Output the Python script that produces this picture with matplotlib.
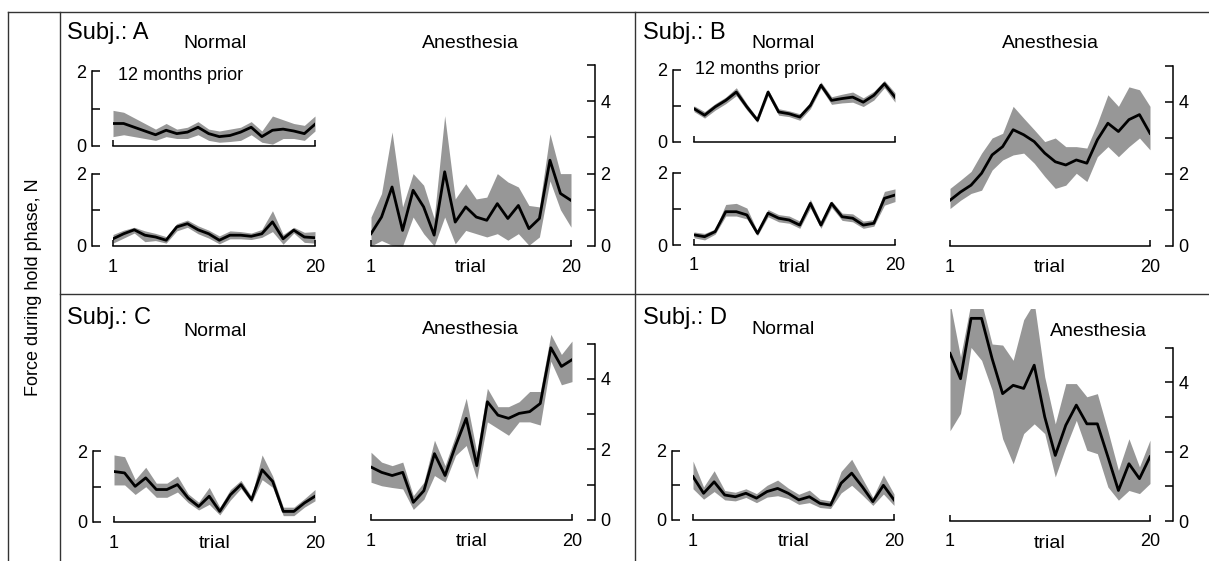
import numpy as np
import matplotlib
matplotlib.use("Agg")
import matplotlib.pyplot as plt
from matplotlib.lines import Line2D

plt.rcParams['font.family'] = ['Liberation Sans', 'DejaVu Sans']

W, H = 1209, 561
trials = np.arange(1, 21)

# ---- data: mean, upper and lower band edge ----
# subject A
a_prior_mean = [0.6, 0.6, 0.5, 0.4, 0.3, 0.42, 0.33, 0.37, 0.5, 0.33, 0.25, 0.28, 0.37, 0.5, 0.25, 0.42, 0.45, 0.4, 0.33, 0.58]
a_prior_hi   = [0.95, 0.9, 0.75, 0.6, 0.45, 0.6, 0.45, 0.5, 0.65, 0.45, 0.4, 0.45, 0.5, 0.65, 0.4, 0.8, 0.7, 0.6, 0.55, 0.8]
a_prior_lo   = [0.25, 0.3, 0.25, 0.2, 0.15, 0.25, 0.2, 0.2, 0.3, 0.15, 0.1, 0.12, 0.15, 0.3, 0.1, 0.05, 0.2, 0.2, 0.15, 0.4]
a_norm_mean  = [0.2, 0.34, 0.45, 0.3, 0.25, 0.16, 0.53, 0.62, 0.45, 0.34, 0.16, 0.3, 0.3, 0.27, 0.34, 0.67, 0.2, 0.44, 0.25, 0.23]
a_norm_hi    = [0.32, 0.44, 0.52, 0.42, 0.35, 0.26, 0.62, 0.72, 0.56, 0.44, 0.28, 0.42, 0.4, 0.36, 0.46, 0.98, 0.32, 0.52, 0.38, 0.4]
a_norm_lo    = [0.08, 0.22, 0.36, 0.12, 0.15, 0.08, 0.42, 0.52, 0.34, 0.22, 0.06, 0.2, 0.2, 0.18, 0.24, 0.4, 0.05, 0.36, 0.1, 0.08]
a_anes_mean  = [0.34, 0.8, 1.63, 0.43, 1.54, 1.08, 0.3, 2.05, 0.66, 1.08, 0.8, 0.71, 1.17, 0.76, 1.12, 0.48, 0.76, 2.37, 1.45, 1.26]
a_anes_hi    = [0.8, 1.45, 3.15, 1.08, 2.0, 1.68, 0.76, 3.6, 1.3, 1.72, 1.3, 1.35, 2.0, 1.77, 1.63, 1.12, 1.08, 3.1, 2.0, 2.0]
a_anes_lo    = [0.0, 0.15, 0.02, 0.0, 0.8, 0.34, 0.0, 0.8, 0.06, 0.43, 0.34, 0.25, 0.34, 0.16, 0.34, 0.02, 0.25, 1.8, 1.0, 0.52]

# subject B
b_prior_mean = [0.92, 0.74, 0.97, 1.15, 1.38, 0.97, 0.6, 1.38, 0.83, 0.78, 0.69, 1.01, 1.57, 1.15, 1.2, 1.24, 1.1, 1.29, 1.61, 1.24]
b_prior_hi   = [1.0, 0.84, 1.06, 1.24, 1.5, 1.05, 0.66, 1.45, 0.92, 0.86, 0.78, 1.1, 1.66, 1.25, 1.32, 1.38, 1.22, 1.4, 1.7, 1.36]
b_prior_lo   = [0.84, 0.66, 0.88, 1.06, 1.28, 0.88, 0.54, 1.28, 0.74, 0.7, 0.6, 0.92, 1.48, 1.04, 1.08, 1.1, 0.98, 1.16, 1.5, 1.1]
b_norm_mean  = [0.28, 0.23, 0.37, 0.92, 0.92, 0.83, 0.32, 0.88, 0.74, 0.69, 0.55, 1.15, 0.55, 1.15, 0.78, 0.74, 0.55, 0.6, 1.29, 1.38]
b_norm_hi    = [0.36, 0.32, 0.44, 1.12, 1.15, 1.02, 0.38, 0.98, 0.84, 0.8, 0.66, 1.26, 0.64, 1.22, 0.88, 0.86, 0.66, 0.7, 1.48, 1.55]
b_norm_lo    = [0.2, 0.14, 0.3, 0.8, 0.8, 0.72, 0.26, 0.78, 0.64, 0.6, 0.46, 1.02, 0.46, 1.04, 0.68, 0.64, 0.46, 0.52, 1.1, 1.2]
b_anes_mean  = [1.27, 1.5, 1.69, 2.02, 2.53, 2.76, 3.23, 3.09, 2.9, 2.58, 2.34, 2.25, 2.39, 2.3, 2.95, 3.41, 3.18, 3.51, 3.65, 3.13]
b_anes_hi    = [1.6, 1.83, 2.07, 2.58, 3.0, 3.13, 3.88, 3.55, 3.23, 2.9, 3.0, 2.76, 2.76, 2.72, 3.41, 4.2, 3.88, 4.42, 4.34, 3.88]
b_anes_lo    = [1.04, 1.27, 1.46, 1.55, 2.11, 2.39, 2.53, 2.58, 2.3, 1.93, 1.6, 1.69, 2.02, 1.79, 2.48, 2.76, 2.48, 2.76, 3.0, 2.67]

# subject C
c_norm_mean  = [1.43, 1.39, 1.01, 1.25, 0.92, 0.92, 1.06, 0.68, 0.44, 0.73, 0.3, 0.77, 1.06, 0.63, 1.48, 1.15, 0.3, 0.3, 0.54, 0.73]
c_norm_hi    = [1.9, 1.85, 1.2, 1.55, 1.1, 1.1, 1.3, 0.8, 0.56, 0.98, 0.42, 0.92, 1.18, 0.72, 1.9, 1.3, 0.42, 0.42, 0.66, 0.92]
c_norm_lo    = [1.05, 1.05, 0.78, 1.0, 0.7, 0.7, 0.85, 0.55, 0.34, 0.5, 0.2, 0.62, 0.95, 0.55, 1.2, 0.98, 0.18, 0.18, 0.42, 0.6]
c_anes_mean  = [1.5, 1.35, 1.26, 1.35, 0.5, 0.83, 1.88, 1.26, 2.11, 2.88, 1.54, 3.35, 2.97, 2.88, 3.02, 3.07, 3.3, 4.88, 4.35, 4.54]
c_anes_hi    = [1.92, 1.64, 1.54, 1.64, 0.69, 1.07, 2.26, 1.54, 2.4, 3.45, 1.92, 3.73, 3.21, 3.21, 3.35, 3.64, 3.64, 5.26, 4.69, 5.07]
c_anes_lo    = [1.07, 0.97, 0.92, 0.88, 0.3, 0.59, 1.26, 1.07, 1.83, 2.11, 1.16, 2.78, 2.59, 2.4, 2.78, 2.78, 2.69, 4.5, 3.83, 3.92]

# subject D
d_norm_mean  = [1.25, 0.77, 1.1, 0.72, 0.67, 0.77, 0.63, 0.82, 0.91, 0.77, 0.58, 0.67, 0.48, 0.43, 1.06, 1.35, 0.96, 0.53, 1.0, 0.58]
d_norm_hi    = [1.7, 0.95, 1.42, 0.85, 0.8, 0.9, 0.76, 1.0, 1.15, 0.92, 0.74, 0.86, 0.6, 0.55, 1.4, 1.75, 1.2, 0.65, 1.3, 0.75]
d_norm_lo    = [0.9, 0.6, 0.82, 0.58, 0.55, 0.65, 0.5, 0.66, 0.7, 0.62, 0.45, 0.5, 0.36, 0.33, 0.78, 1.0, 0.72, 0.42, 0.75, 0.42]
d_anes_mean  = [4.83, 4.1, 5.84, 5.84, 4.68, 3.67, 3.91, 3.82, 4.49, 3.0, 1.89, 2.76, 3.34, 2.8, 2.8, 1.85, 0.88, 1.65, 1.22, 1.85]
d_anes_hi    = [6.3, 4.73, 6.3, 6.3, 5.1, 5.07, 4.63, 5.8, 6.3, 4.15, 2.8, 3.96, 3.96, 3.58, 3.67, 2.6, 1.46, 2.37, 1.56, 2.33]
d_anes_lo    = [2.6, 3.1, 5.0, 4.63, 3.77, 2.37, 1.65, 2.52, 2.8, 2.52, 1.27, 2.13, 2.9, 2.04, 1.94, 0.98, 0.6, 0.88, 0.79, 1.08]

BAND = '#979797'
FS = 14      # panel titles and "trial"
TFS = 13     # tick labels
SFS = 17     # "Subj.: X"


def make_ax(x0, x1, yzero, ppu, ytop, side='left', spine_px=21, xlabels=True):
    ax = fig.add_axes([x0 / W, 1 - yzero / H, (x1 - x0) / W, ppu * ytop / H])
    ax.set_xlim(1, 20)
    ax.set_ylim(0, ytop)
    ax.patch.set_visible(False)
    for s in ['top', 'left', 'right']:
        ax.spines[s].set_visible(False)
    ax.spines['bottom'].set_bounds(1, 20)
    ax.spines[side].set_visible(True)
    ax.spines[side].set_position(('outward', spine_px * 0.72))
    ax.yaxis.set_ticks_position(side)
    if side == 'left':
        ax.spines[side].set_bounds(0, 2)
        ax.set_yticks([0, 1, 2])
        ax.set_yticklabels(['0', '', '2'])
    else:
        ax.spines[side].set_bounds(0, 5)
        ax.set_yticks([0, 1, 2, 3, 4, 5])
        ax.set_yticklabels(['0', '', '2', '', '4', ''])
    ax.tick_params(axis='y', direction='in', length=6, width=1.1, pad=4, labelsize=TFS)
    ax.set_xticks([1, 20])
    ax.tick_params(axis='x', direction='in', length=4, width=1.1, pad=9, labelsize=TFS)
    if xlabels:
        ax.annotate('trial', xy=(0.5, 0), xycoords='axes fraction', xytext=(0, -22),
                    textcoords='offset pixels', ha='center', va='center', fontsize=FS)
    else:
        ax.set_xticklabels(['', ''])
    for s in ax.spines.values():
        s.set_linewidth(1.1)
    return ax


def draw(ax, mean, hi, lo):
    ax.fill_between(trials, lo, hi, color=BAND, lw=0)
    ax.plot(trials, mean, color='black', lw=2)


fig = plt.figure(figsize=(W / 100, H / 100), dpi=100)

# frame lines
for xs, ys in [([8, W], [12, 12]), ([8, 8], [12, H]), ([60, 60], [12, H]),
               ([635, 635], [12, H]), ([60, W], [294, 294])]:
    fig.add_artist(Line2D([x / W for x in xs], [1 - y / H for y in ys],
                          color='#333333', lw=1))

fig.text(34 / W, 1 - 287 / H, 'Force during hold phase, N', rotation=90,
         ha='center', va='center', fontsize=13)

# subject A
ax = make_ax(113, 315, 146, 37.5, 2, xlabels=False)
draw(ax, a_prior_mean, a_prior_hi, a_prior_lo)
ax = make_ax(113, 315, 246, 36, 2)
draw(ax, a_norm_mean, a_norm_hi, a_norm_lo)
ax = make_ax(371, 571, 246, 36.2, 5.2, side='right', spine_px=24)
draw(ax, a_anes_mean, a_anes_hi, a_anes_lo)

# subject B
ax = make_ax(694, 895, 142, 36.2, 2, xlabels=False)
draw(ax, b_prior_mean, b_prior_hi, b_prior_lo)
ax = make_ax(694, 895, 245, 36.2, 2)
draw(ax, b_norm_mean, b_norm_hi, b_norm_lo)
ax = make_ax(950, 1150, 246, 36, 5.2, side='right', spine_px=23)
draw(ax, b_anes_mean, b_anes_hi, b_anes_lo)

# subject C
ax = make_ax(114, 315, 522, 35.3, 2.2)
draw(ax, c_norm_mean, c_norm_hi, c_norm_lo)
ax = make_ax(371, 572, 520, 35.3, 5.4, side='right', spine_px=23)
draw(ax, c_anes_mean, c_anes_hi, c_anes_lo)

# subject D
ax = make_ax(693, 894, 520, 34.7, 2.2)
draw(ax, d_norm_mean, d_norm_hi, d_norm_lo)
ax = make_ax(950, 1150, 521, 34.7, 6.1, side='right', spine_px=23)
draw(ax, d_anes_mean, d_anes_hi, d_anes_lo)

# panel texts
labels = [
    (67, 33, 'Subj.: A', SFS, 'left'), (215, 43, 'Normal', FS, 'center'),
    (118, 75, '12 months prior', TFS, 'left'), (470, 43, 'Anesthesia', FS, 'center'),
    (643, 33, 'Subj.: B', SFS, 'left'), (783, 43, 'Normal', FS, 'center'),
    (695, 70, '12 months prior', TFS, 'left'), (1050, 43, 'Anesthesia', FS, 'center'),
    (67, 318, 'Subj.: C', SFS, 'left'), (215, 332, 'Normal', FS, 'center'),
    (470, 330, 'Anesthesia', FS, 'center'),
    (643, 318, 'Subj.: D', SFS, 'left'), (783, 330, 'Normal', FS, 'center'),
    (1098, 332, 'Anesthesia', FS, 'center'),
]
for x, y, t, fs, ha in labels:
    fig.text(x / W, 1 - y / H, t, ha=ha, va='center', fontsize=fs)

fig.savefig('out.png', dpi=100)
